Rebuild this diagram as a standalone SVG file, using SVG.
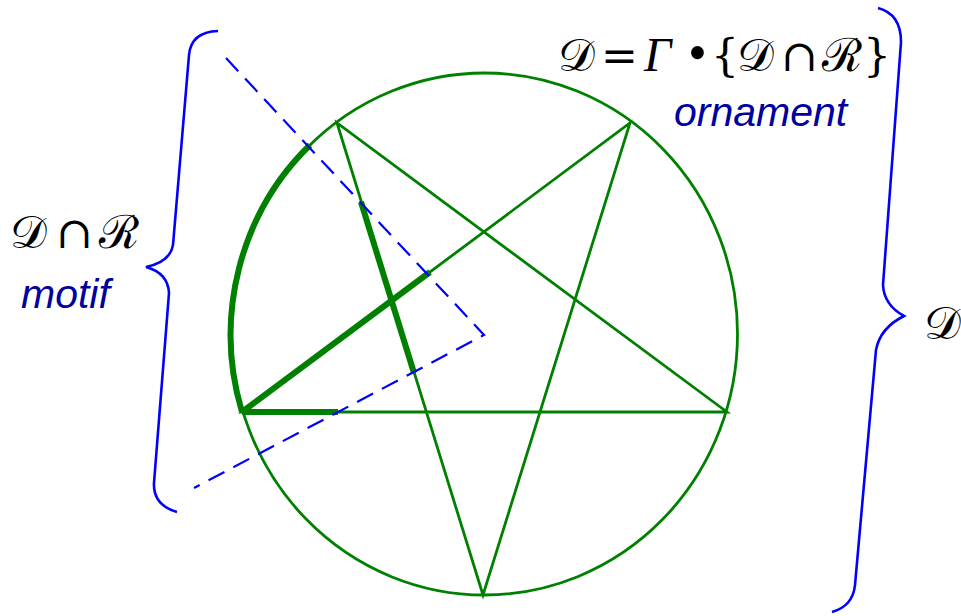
<svg xmlns="http://www.w3.org/2000/svg" width="961" height="616" viewBox="0 0 961 616">
<style>
.g{fill:none;stroke:#008000;stroke-width:2.8}
.gt{fill:none;stroke:#008000;stroke-width:6;stroke-linecap:butt}
.d{fill:none;stroke:#0000ff;stroke-width:2.2;stroke-dasharray:18 10}
.b{fill:none;stroke:#0000ff;stroke-width:2.6;stroke-linejoin:miter}
.m{font-family:"DejaVu Serif","Liberation Serif",serif;font-size:46px;fill:#000}
.c{font-family:"DejaVu Serif","Liberation Serif",serif;font-size:44px}
.ls{font-family:"Liberation Serif",serif}
.l{font-family:"Liberation Sans",Arial,sans-serif;font-style:italic;font-size:41px;fill:#0000a0}
</style>
<rect width="961" height="616" fill="#fff"/>
<g id="figure">
<ellipse class="g" cx="484.5" cy="334" rx="253" ry="261"/>
<path class="g" d="M337 123 L483 595 L630 123 L242 412 L727 412 Z"/>
</g>
<g id="motif-region">
<path class="gt" d="M310 145 A253 261 0 0 0 242 412"/>
<path class="gt" d="M242 412 L430 272"/>
<path class="gt" d="M361 202 L414 373"/>
<path class="gt" d="M242 412 L338 412"/>
</g>
<g id="connectors">
<path class="d" d="M226 58 L484 335 L194 488"/>
<path class="b" d="M218 31 Q191 32 189 55 L173 245 Q170 262 146 267 Q168 273 169 293 L154 483 Q153 505 177 512"/>
<path class="b" d="M878 8 Q901 14 901 42 L883 285 Q884 305 904 316 Q880 328 876 350 L855 585 Q853 606 832 612"/>
</g>
<g id="label-motif">
<text class="m" y="248"><tspan x="10">𝒟</tspan><tspan class="c" x="56">∩</tspan><tspan x="99">ℛ</tspan></text>
<text class="l" x="21" y="308">motif</text>
</g>
<g id="label-ornament">
<text class="m" y="71"><tspan x="558">𝒟</tspan><tspan class="c" x="601">=</tspan><tspan class="ls" x="644" font-style="italic" font-size="48">Γ</tspan><tspan class="ls" x="688" font-size="54">•</tspan><tspan class="c" x="711">{</tspan><tspan x="737">𝒟</tspan><tspan class="c" x="781">∩</tspan><tspan x="822">ℛ</tspan><tspan class="c" x="863">}</tspan></text>
<text class="l" x="674" y="126">ornament</text>
</g>
<g id="label-D">
<text class="m" x="924" y="339">𝒟</text>
</g>
</svg>
